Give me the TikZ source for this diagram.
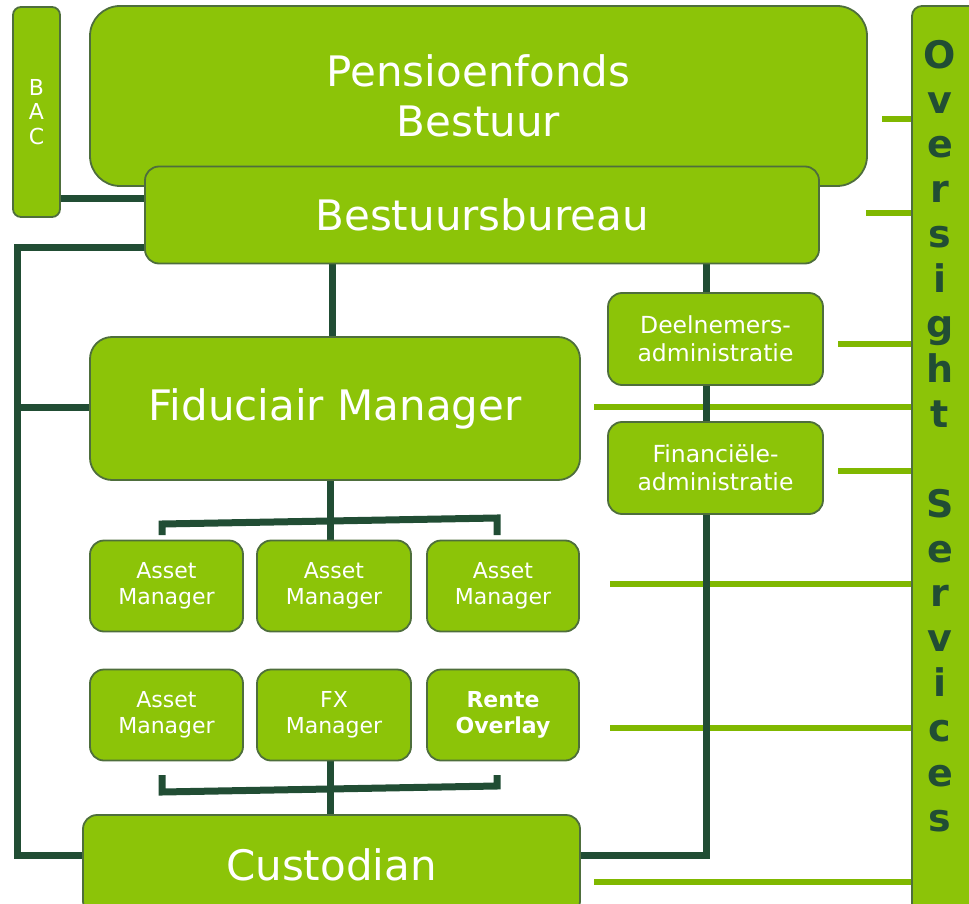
\documentclass[tikz,border=0pt]{standalone}
\usepackage{fontspec}
\setmainfont{DejaVu Sans}
\usetikzlibrary{calc}
\definecolor{boxgreen}{HTML}{8CC408}
\definecolor{boxedge}{HTML}{4E6E3C}
\definecolor{darkline}{HTML}{214D34}
\definecolor{lightline}{HTML}{80B800}
\pgfdeclarelayer{bg}
\pgfsetlayers{bg,main}
\tikzset{
  gbox/.style={draw=boxedge, line width=1.8pt, fill=boxgreen, rounded corners=#1,
    inner sep=0pt, text=white, align=center},
  gbox/.default=14pt,
  darkc/.style={draw=darkline, line width=7pt},
  lightc/.style={draw=lightline, line width=6pt},
}
\begin{document}
\begin{tikzpicture}[x=1pt,y=-1pt]
\useasboundingbox (0,0) rectangle (969,904);
% nodes
\node[gbox=8pt, minimum width=47pt, minimum height=210pt,
  font=\fontsize{22}{24.5}\selectfont] (bac) at (36.5,112) {B\\A\\C};
\node[gbox=30pt, minimum width=777pt, minimum height=180pt,
  font=\fontsize{42}{50}\selectfont] (pb) at (478.5,96) {Pensioenfonds\\Bestuur};
\node[gbox, minimum width=674pt, minimum height=97pt,
  font=\fontsize{42}{46}\selectfont] (bb) at (482,215) {Bestuursbureau};
\node[gbox=10pt, minimum width=68pt, minimum height=908pt] (os) at (946,460) {};
\node[text=darkline, font=\fontsize{38}{44.9}\bfseries, align=center, inner sep=0pt]
  (ostext) at (940,436) {O\\v\\e\\r\\s\\i\\g\\h\\t\\[44.9pt]S\\e\\r\\v\\i\\c\\e\\s};
\node[gbox=22pt, minimum width=490pt, minimum height=143pt,
  font=\fontsize{42}{46}\selectfont] (fid) at (335,408.5) {Fiduciair Manager};
\node[gbox, minimum width=215pt, minimum height=92pt,
  font=\fontsize{23.5}{28}\selectfont] (deel) at (715.5,339) {Deelnemers-\\administratie};
\node[gbox, minimum width=215pt, minimum height=92pt,
  font=\fontsize{23.5}{28}\selectfont] (fin) at (715.5,468) {Financiële-\\administratie};
\tikzset{am/.style={gbox, minimum height=91pt, font=\fontsize{22}{26}\selectfont}}
\node[am, minimum width=153pt] (am1) at (166.5,586) {Asset\\Manager};
\node[am, minimum width=154pt] (am2) at (334,586) {Asset\\Manager};
\node[am, minimum width=152pt] (am3) at (503,586) {Asset\\Manager};
\node[am, minimum width=153pt] (am4) at (166.5,715) {Asset\\Manager};
\node[am, minimum width=154pt] (am5) at (334,715) {FX\\Manager};
\node[am, minimum width=152pt, font=\fontsize{22}{26}\bfseries] (am6) at (503,715) {Rente\\Overlay};
\node[gbox, minimum width=497pt, minimum height=100pt,
  font=\fontsize{42}{46}\selectfont] (cust) at (331.5,865) {Custodian};
% helper coordinates
\coordinate (vx) at (706,0);
\coordinate (L1) at (17,247);
\coordinate (L2) at (17,855);
\coordinate (L3) at (17,407);
\coordinate (C1) at (706,855);
\coordinate (t1a) at (162,535);
\coordinate (t1b) at (162,524);
\coordinate (t1c) at (497,518);
\coordinate (t1d) at (497,535);
\coordinate (t2a) at (162,775);
\coordinate (t2b) at (162,792);
\coordinate (t2c) at (497,786);
\coordinate (t2d) at (497,775);
\coordinate (o1) at (882,119);
\coordinate (o2) at (866,213);
\coordinate (o3) at (838,344);
\coordinate (o4) at (594,407);
\coordinate (o5) at (838,471);
\coordinate (o6) at (610,584);
\coordinate (o7) at (610,728);
\coordinate (o8) at (594,882);
\begin{pgfonlayer}{bg}
% light connectors
\foreach \c in {o1,o2,o3,o4,o5,o6,o7,o8}
  \draw[lightc] (\c) -- (os.west |- \c);
% dark connectors
\draw[darkc] (bac.east |- 0,199) -- (bb.west |- 0,199);
\draw[darkc] (bb.west |- L1) -- (L1) -- (L2) -- (cust.west |- L2);
\draw[darkc] (L3) -- (fid.west |- L3);
\draw[darkc] (bb.south -| 332,0) -- (fid.north -| 332,0);
\draw[darkc] (bb.south -| vx) -- (deel.north -| vx);
\draw[darkc] (deel.south -| vx) -- (fin.north -| vx);
\draw[darkc, line join=miter] (fin.south -| vx) -- (C1) -- (cust.east |- C1);
\draw[darkc] (fid.south -| 330,0) -- (am2.north -| 330,0);
\draw[darkc, line join=miter] (t1a) -- (t1b) -- (t1c) -- (t1d);
\draw[darkc] (am5.south -| 330,0) -- (cust.north -| 330,0);
\draw[darkc, line join=miter] (t2a) -- (t2b) -- (t2c) -- (t2d);
\end{pgfonlayer}
\end{tikzpicture}
\end{document}
